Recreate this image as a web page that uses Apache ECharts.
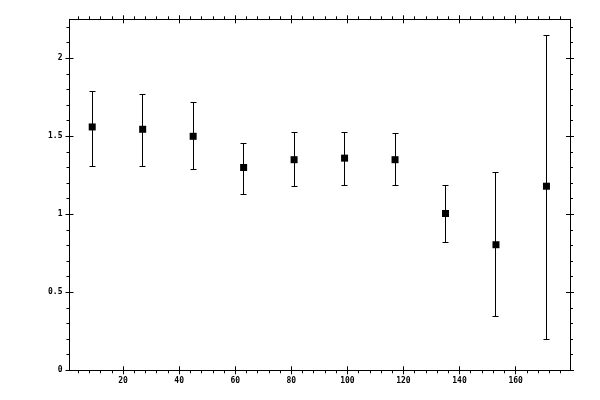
<!DOCTYPE html>
<html>
<head>
<meta charset="utf-8">
<script src="https://cdn.jsdelivr.net/npm/echarts@6/dist/echarts.min.js"></script>
<style>
html,body{margin:0;padding:0;background:#fff;}
#chart{width:600px;height:400px;}
</style>
</head>
<body>
<div id="chart"></div>
<script>
// Data
const xValues = [9, 27, 45, 63, 81, 99, 117, 135, 153, 171];
const yValues = [1.56, 1.545, 1.50, 1.30, 1.35, 1.36, 1.35, 1.005, 0.805, 1.18];
const yLow    = [1.31, 1.31, 1.29, 1.13, 1.18, 1.185, 1.185, 0.82, 0.345, 0.20];
const yHigh   = [1.79, 1.77, 1.72, 1.46, 1.53, 1.525, 1.52, 1.19, 1.27, 2.15];

const xMajorTicks = [20, 40, 60, 80, 100, 120, 140, 160];
const xMinorTicks = [4, 8, 12, 16, 24, 28, 32, 36, 44, 48, 52, 56, 64, 68, 72, 76,
  84, 88, 92, 96, 104, 108, 112, 116, 124, 128, 132, 136, 144, 148, 152, 156,
  164, 168, 172, 176];
const yMajorTicks = [0, 0.5, 1, 1.5, 2];
const yMinorTicks = [0.1, 0.2, 0.3, 0.4, 0.6, 0.7, 0.8, 0.9, 1.1, 1.2, 1.3, 1.4,
  1.6, 1.7, 1.8, 1.9, 2.1, 2.2];

const X_MIN = 0.9, X_MAX = 179.4, Y_MIN = 0, Y_MAX = 2.25;

const labelFont = { color: '#000', fontFamily: 'DejaVu Sans Mono', fontSize: 8, fontWeight: 'bold' };

function mkAxis(kind, position, ticks, inside, len, showLine, labels) {
  const isX = kind === 'x';
  return {
    type: 'value',
    position: position,
    min: isX ? X_MIN : Y_MIN,
    max: isX ? X_MAX : Y_MAX,
    splitLine: { show: false },
    axisLine: { show: showLine, onZero: false, lineStyle: { color: '#000', width: 1 } },
    axisTick: { show: true, inside: inside, length: len, customValues: ticks,
      lineStyle: { color: '#000', width: 1 } },
    axisLabel: labels
      ? Object.assign({ show: true, customValues: ticks, margin: 7,
          formatter: v => String(v) }, labelFont)
      : { show: false },
    minorTick: { show: false },
    silent: true
  };
}

const errData = xValues.map((x, i) => [x, yLow[i], yHigh[i]]);
const ptData = xValues.map((x, i) => [x, yValues[i]]);

const option = {
  animation: false,
  backgroundColor: '#fff',
  grid: { left: 69.5, right: 30, top: 19.3, bottom: 29.7, outerBoundsMode: 'none' },
  xAxis: [
    mkAxis('x', 'bottom', xMajorTicks, false, 4, true, true),
    mkAxis('x', 'bottom', xMajorTicks, true, 4, false, false),
    mkAxis('x', 'bottom', xMinorTicks, false, 3, false, false),
    mkAxis('x', 'top', xMajorTicks, false, 4, true, false),
    mkAxis('x', 'top', xMajorTicks, true, 4, false, false),
    mkAxis('x', 'top', xMinorTicks, false, 3, false, false)
  ],
  yAxis: [
    mkAxis('y', 'left', yMajorTicks, false, 4, true, true),
    mkAxis('y', 'left', yMajorTicks, true, 4, false, false),
    mkAxis('y', 'left', yMinorTicks, false, 3, false, false),
    mkAxis('y', 'right', yMajorTicks, false, 4, true, false),
    mkAxis('y', 'right', yMajorTicks, true, 4, false, false),
    mkAxis('y', 'right', yMinorTicks, false, 3, false, false)
  ],
  series: [
    {
      type: 'custom',
      xAxisIndex: 0,
      yAxisIndex: 0,
      data: errData,
      clip: false,
      renderItem: function (params, api) {
        const x = api.value(0);
        const top = api.coord([x, api.value(2)]);
        const bot = api.coord([x, api.value(1)]);
        const cx = Math.floor(top[0]) + 0.5;
        const ty = Math.round(top[1]) + 0.5;
        const by = Math.round(bot[1]) + 0.5;
        const hw = 3;
        const st = { stroke: '#000', lineWidth: 1 };
        return {
          type: 'group',
          children: [
            { type: 'line', shape: { x1: cx, y1: ty, x2: cx, y2: by }, style: st },
            { type: 'line', shape: { x1: cx - hw, y1: ty, x2: cx + hw, y2: ty }, style: st },
            { type: 'line', shape: { x1: cx - hw, y1: by, x2: cx + hw, y2: by }, style: st }
          ]
        };
      }
    },
    {
      type: 'scatter',
      xAxisIndex: 0,
      yAxisIndex: 0,
      data: ptData,
      symbol: 'rect',
      symbolSize: 7,
      itemStyle: { color: '#000', opacity: 1 },
      silent: true,
      z: 5
    }
  ]
};

const chart = echarts.init(document.getElementById('chart'), null, { renderer: 'canvas' });
chart.setOption(option);
</script>
</body>
</html>
